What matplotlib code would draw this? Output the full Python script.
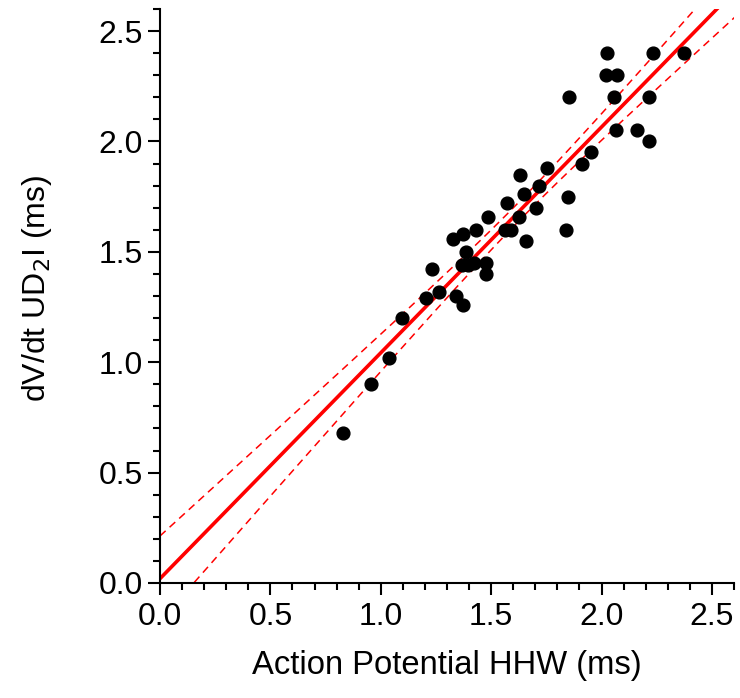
import numpy as np
import matplotlib.pyplot as plt
from matplotlib.ticker import MultipleLocator

plt.rcParams['font.family'] = ['Liberation Sans', 'DejaVu Sans']

# action potential HHW (ms) vs dV/dt UD2I (ms)
hhw = [0.83, 0.956, 1.038, 1.096, 1.205, 1.262, 1.232, 1.342, 1.374, 1.326,
       1.374, 1.43, 1.486, 1.572, 1.385, 1.366, 1.396, 1.422, 1.478, 1.478,
       1.562, 1.588, 1.627, 1.658, 1.703, 1.63, 1.65, 1.716, 1.754, 1.837,
       1.85, 1.852, 1.913, 1.954, 2.026, 2.019, 2.071, 2.056, 2.065, 2.162,
       2.215, 2.215, 2.234, 2.375]
ud2i = [0.68, 0.90, 1.02, 1.20, 1.29, 1.32, 1.42, 1.30, 1.26, 1.56,
        1.58, 1.60, 1.66, 1.72, 1.50, 1.44, 1.44, 1.45, 1.45, 1.40,
        1.60, 1.60, 1.66, 1.55, 1.70, 1.85, 1.76, 1.80, 1.88, 1.60,
        1.75, 2.20, 1.90, 1.95, 2.40, 2.30, 2.30, 2.20, 2.05, 2.05,
        2.00, 2.20, 2.40, 2.40]

x = np.array(hhw)
y = np.array(ud2i)

# linear regression with 95% confidence band
n = len(x)
slope, icpt = np.polyfit(x, y, 1)
resid = y - (slope * x + icpt)
s = np.sqrt(np.sum(resid ** 2) / (n - 2))
sxx = np.sum((x - x.mean()) ** 2)
t95 = 2.018  # t(0.975, df=42)

xx = np.linspace(0, 2.7, 300)
yfit = slope * xx + icpt
half = t95 * s * np.sqrt(1 / n + (xx - x.mean()) ** 2 / sxx)

fig = plt.figure(figsize=(7.4, 6.98), dpi=100)
ax = fig.add_axes([0.2162, 0.1648, 0.7757, 0.8223])

ax.plot(xx, yfit, '-', color='#ff0000', lw=2.6, zorder=2)
ax.plot(xx, yfit + half, '--', color='#ff0000', lw=1.1, dashes=(5, 3.5), zorder=2)
ax.plot(xx, yfit - half, '--', color='#ff0000', lw=1.1, dashes=(5, 3.5), zorder=2)
ax.plot(x, y, 'o', color='black', ms=9.2, zorder=3)

ax.set_xlim(0, 2.6)
ax.set_ylim(0, 2.6)

for side in ['top', 'right']:
    ax.spines[side].set_visible(False)
for side in ['left', 'bottom']:
    ax.spines[side].set_linewidth(1.5)

ax.xaxis.set_major_locator(MultipleLocator(0.5))
ax.xaxis.set_minor_locator(MultipleLocator(0.1))
ax.yaxis.set_major_locator(MultipleLocator(0.5))
ax.yaxis.set_minor_locator(MultipleLocator(0.1))
ax.xaxis.set_major_formatter('{x:.1f}')
ax.yaxis.set_major_formatter('{x:.1f}')

ax.tick_params(which='major', direction='out', length=8.6, width=1.5, labelsize=23)
ax.tick_params(which='minor', direction='out', length=5, width=1.5)
ax.tick_params(axis='x', which='major', pad=5)
ax.tick_params(axis='y', which='major', pad=3.5)

ax.set_xlabel('Action Potential HHW (ms)', fontsize=23.6, labelpad=13)
ax.set_ylabel('dV/dt UD$_2$I (ms)', fontsize=23)
ax.yaxis.set_label_coords(-0.184, 0.514)

fig.savefig('out.png', dpi=100)
